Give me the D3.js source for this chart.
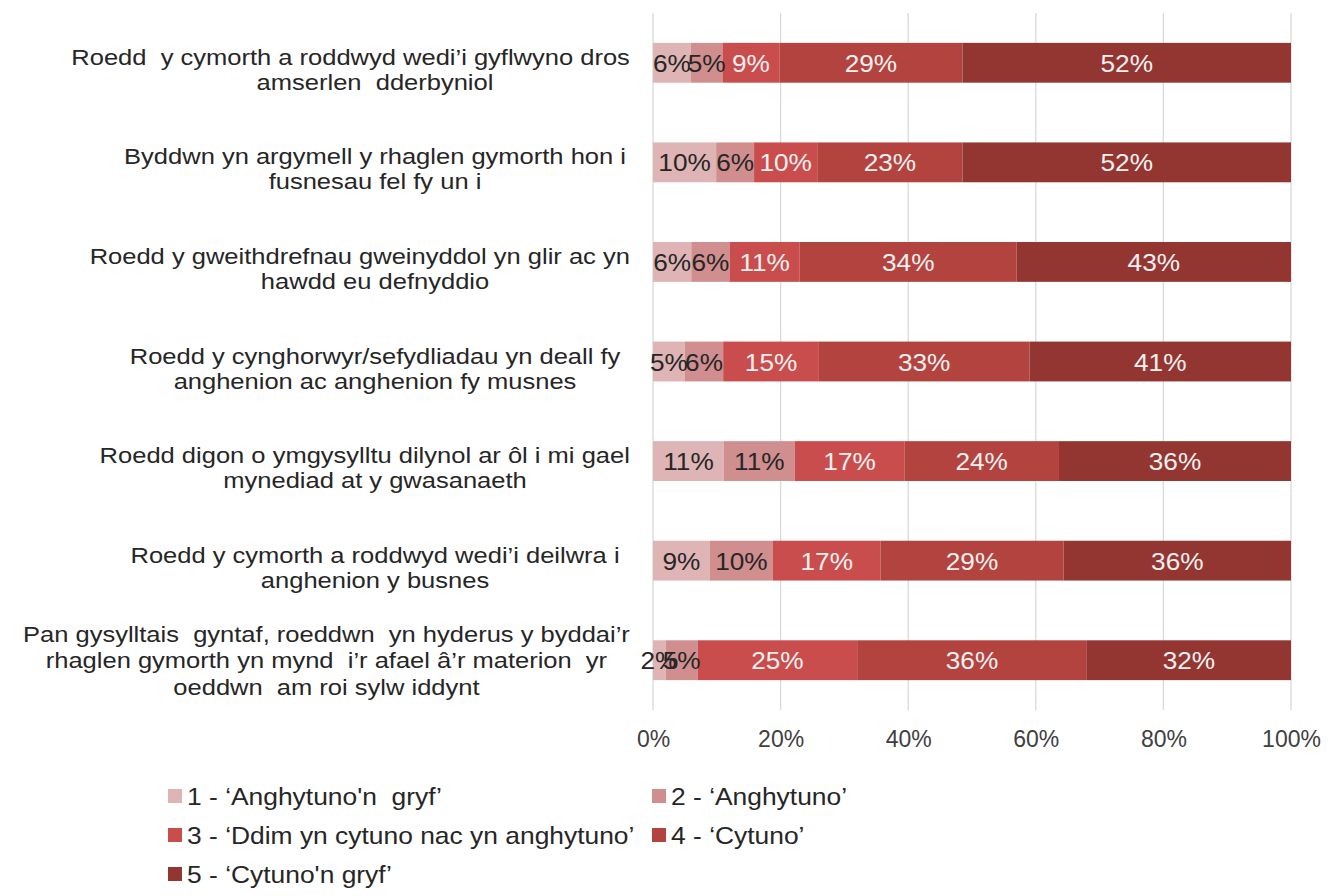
<!DOCTYPE html>
<html>
<head>
<meta charset="utf-8">
<script src="https://cdn.jsdelivr.net/npm/d3@7"></script>
<style>
  html, body { margin: 0; padding: 0; background: #fff; }
  svg { display: block; font-family: "Liberation Sans", Arial, sans-serif; }
  text { white-space: pre; }
</style>
</head>
<body>
<svg id="chart" width="1335" height="896"></svg>
<script>
// ---- data ----
const categories = [
  ["Roedd  y cymorth a roddwyd wedi’i gyflwyno dros", "amserlen  dderbyniol"],
  ["Byddwn yn argymell y rhaglen gymorth hon i", "fusnesau fel fy un i"],
  ["Roedd y gweithdrefnau gweinyddol yn glir ac yn", "hawdd eu defnyddio"],
  ["Roedd y cynghorwyr/sefydliadau yn deall fy", "anghenion ac anghenion fy musnes"],
  ["Roedd digon o ymgysylltu dilynol ar ôl i mi gael", "mynediad at y gwasanaeth"],
  ["Roedd y cymorth a roddwyd wedi’i deilwra i", "anghenion y busnes"],
  ["Pan gysylltais  gyntaf, roeddwn  yn hyderus y byddai’r", "rhaglen gymorth yn mynd  i’r afael â’r materion  yr", "oeddwn  am roi sylw iddynt"]
];
const seriesNames = [
  "1 - ‘Anghytuno'n  gryf’",
  "2 - ‘Anghytuno’",
  "3 - ‘Ddim yn cytuno nac yn anghytuno’",
  "4 - ‘Cytuno’",
  "5 - ‘Cytuno'n gryf’"
];
const s1 = [6, 10, 6, 5, 11, 9, 2];
const s2 = [5, 6, 6, 6, 11, 10, 5];
const s3 = [9, 10, 11, 15, 17, 17, 25];
const s4 = [29, 23, 34, 33, 24, 29, 36];
const s5 = [52, 52, 43, 41, 36, 36, 32];
const tickValues = [0, 0.2, 0.4, 0.6, 0.8, 1.0];

const colors = ["#dfb4b5", "#d08e8f", "#c94d4c", "#b3433f", "#933632"];
const labelColors = ["#262626", "#262626", "#f4f0f0", "#f4f0f0", "#f4f0f0"];

// ---- build table ----
const seriesArrays = [s1, s2, s3, s4, s5];
const keys = ["s1", "s2", "s3", "s4", "s5"];
const table = categories.map((c, i) => {
  const row = { id: i };
  keys.forEach((k, j) => row[k] = seriesArrays[j][i]);
  return row;
});
const stacked = d3.stack().keys(keys).offset(d3.stackOffsetExpand)(table);

const svg = d3.select("#chart");
const x = d3.scaleLinear().domain([0, 1]).range([653, 1291]);
const y = d3.scaleBand().domain(d3.range(categories.length)).range([13, 710]).paddingInner(0.6).paddingOuter(0.3);

// gridlines
svg.append("g").selectAll("line").data(tickValues).join("line")
  .attr("x1", d => x(d)).attr("x2", d => x(d))
  .attr("y1", 13).attr("y2", 710)
  .attr("stroke", "#d9d9d9").attr("stroke-width", 1.3);

// bars
const groups = svg.append("g").selectAll("g").data(stacked).join("g")
  .attr("fill", (d, i) => colors[i]);
groups.selectAll("rect").data(d => d).join("rect")
  .attr("x", d => x(d[0]))
  .attr("width", d => x(d[1]) - x(d[0]))
  .attr("y", (d, i) => y(i))
  .attr("height", y.bandwidth());

// bar labels
const barSx = 1.14;
stacked.forEach((ser, si) => {
  svg.append("g").selectAll("text").data(ser).join("text")
    .attr("transform", (d, i) => `translate(${(x(d[0]) + x(d[1])) / 2},${y(i) + y.bandwidth() / 2 + 9}) scale(${barSx},1)`)
    .attr("text-anchor", "middle")
    .attr("font-size", 23)
    .attr("fill", labelColors[si])
    .text((d, i) => seriesArrays[si][i] + "%");
});

// x axis labels
const xAxis = d3.axisBottom(x).tickValues(tickValues).tickFormat(d3.format(".0%")).tickSize(0).tickPadding(0);
const ax = svg.append("g").attr("transform", "translate(0,731)").call(xAxis);
ax.select(".domain").remove();
ax.selectAll("text").attr("font-size", 23).attr("fill", "#404040")
  .attr("font-family", "'Liberation Sans', Arial, sans-serif").attr("dy", "0.71em");

// category labels
const labelRight = 630, catSx = 1.16;
categories.forEach((lines, i) => {
  const g = svg.append("g");
  const cy = y(i) + y.bandwidth() / 2;
  const n = lines.length;
  const centers = n > 2 ? [-26, 0, 27] : [-6, 19];
  const texts = lines.map((ln, k) => g.append("text")
    .attr("font-size", 22).attr("fill", "#262626")
    .attr("text-anchor", "middle")
    .text(ln));
  const widths = texts.map(t => t.node().getComputedTextLength() * catSx);
  const maxW = d3.max(widths);
  texts.forEach((t, k) => {
    const c = n > 2 ? labelRight - maxW / 2 : Math.min(375, labelRight - widths[k] / 2);
    t.attr("transform", `translate(${c},${cy + centers[k] + 8}) scale(${catSx},1)`);
  });
});

// legend
const legendPos = [[168, 796], [652, 796], [168, 835], [652, 835], [168, 874]];
const lg = svg.append("g").selectAll("g").data(seriesNames).join("g")
  .attr("transform", (d, i) => `translate(${legendPos[i][0]},${legendPos[i][1]})`);
lg.append("rect").attr("x", 0).attr("y", -7).attr("width", 14).attr("height", 14)
  .attr("fill", (d, i) => colors[i]);
lg.append("text").attr("transform", "translate(19,9) scale(1.1,1)").attr("font-size", 24).attr("fill", "#262626")
  .text(d => d);
</script>
</body>
</html>
